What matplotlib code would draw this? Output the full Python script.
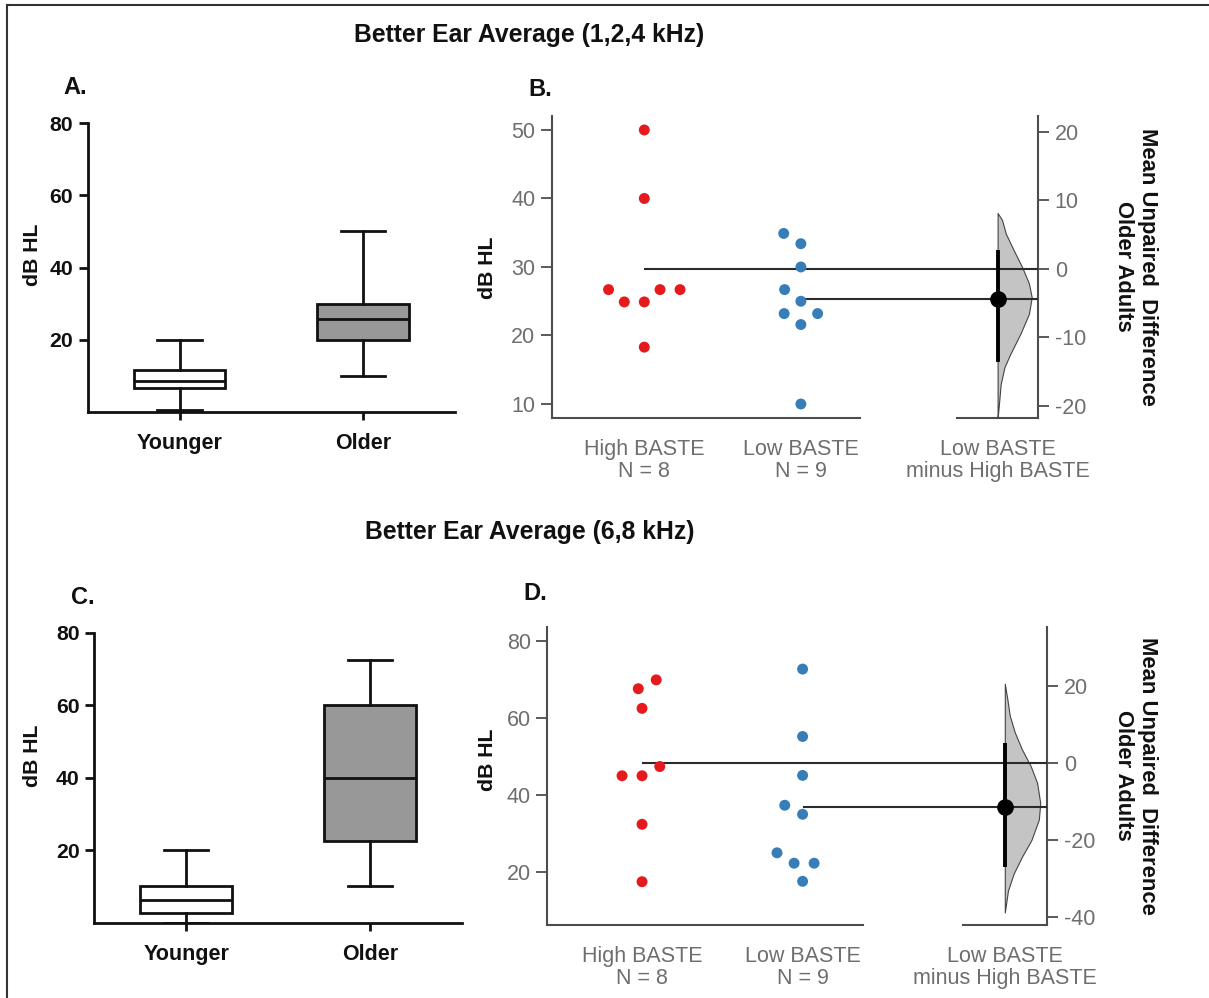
import numpy as np
import matplotlib
matplotlib.use("Agg")
import matplotlib.pyplot as plt
from matplotlib.lines import Line2D

plt.rcParams['font.family'] = ['Liberation Sans', 'DejaVu Sans']
plt.rcParams['axes.unicode_minus'] = False

# ---------------- data ----------------
box_groups = ['Younger', 'Older']
# Panel A: Better ear average (1,2,4 kHz), box plot stats
a_whislo = [0.5, 10]
a_q1 = [6.6, 20]
a_med = [8.4, 25.8]
a_q3 = [11.7, 30]
a_whishi = [20, 50]
# Panel C: Better ear average (6,8 kHz)
c_whislo = [0, 10]
c_q1 = [2.6, 22.6]
c_med = [6.3, 40]
c_q3 = [10.1, 60]
c_whishi = [20, 72.5]

# Panel B: older adults, dB HL (1,2,4 kHz)
b_high = [50, 40, 26.7, 26.7, 26.7, 24.9, 24.9, 18.3]
b_low = [34.9, 33.4, 30.0, 26.7, 25.0, 23.2, 23.2, 21.6, 10.0]
b_ci = [-13.7, 2.7]
# bootstrap distribution outline (difference value, relative density)
b_dist_val = [8.1, 7.1, 5.1, 2.7, 0.2, -2.2, -4.2, -6.6, -9.5, -12.5, -14.4, -16.9, -20.3, -21.8]
b_dist_den = [0.0, 0.13, 0.24, 0.47, 0.72, 0.92, 1.0, 0.92, 0.67, 0.37, 0.20, 0.09, 0.03, 0.0]

# Panel D: older adults, dB HL (6,8 kHz)
d_high = [69.8, 67.5, 62.4, 47.3, 44.9, 44.9, 32.3, 17.4]
d_low = [72.6, 55.1, 45.0, 37.25, 34.9, 24.9, 22.2, 22.2, 17.5]
d_ci = [-27.1, 5.2]
d_dist_val = [20.5, 16.6, 12.2, 7.9, 3.5, -0.9, -5.2, -10.5, -14.8, -20.1, -24.5, -28.8, -33.2, -38.9]
d_dist_den = [0.0, 0.07, 0.14, 0.28, 0.48, 0.73, 0.91, 1.0, 0.96, 0.75, 0.48, 0.25, 0.09, 0.0]

group_names = ['High BASTE', 'Low BASTE']
contrast_name = 'Low BASTE\nminus High BASTE'
b_left_ticks = [10, 20, 30, 40, 50]
b_right_ticks = [20, 10, 0, -10, -20]
d_left_ticks = [20, 40, 60, 80]
d_right_ticks = [20, 0, -20, -40]
box_ticks = [20, 40, 60, 80]

# ---------------- layout helpers ----------------
W, H = 1209, 998
fig = plt.figure(figsize=(W / 100, H / 100), dpi=100)


def rect(l, t, r, b):
    return [l / W, 1 - b / H, (r - l) / W, (b - t) / H]


def fx(x):
    return x / W


def fy(y):
    return 1 - y / H


INK = '#111111'
GRAYTXT = '#6e6e6e'
SPINE = '#4d4d4d'
RED = '#E41A1C'
BLUE = '#377EB8'


def box_panel(pos, whislo, q1, med, q3, whishi):
    ax = fig.add_axes(rect(*pos))
    stats = []
    for i in range(len(box_groups)):
        stats.append(dict(whislo=whislo[i], q1=q1[i], med=med[i], q3=q3[i],
                          whishi=whishi[i], fliers=[]))
    lw = 2.0
    bp = ax.bxp(stats, positions=[1, 2], widths=0.5, capwidths=0.24,
                patch_artist=True, showfliers=False,
                boxprops=dict(linewidth=lw, edgecolor=INK),
                medianprops=dict(color=INK, linewidth=lw),
                whiskerprops=dict(color=INK, linewidth=lw),
                capprops=dict(color=INK, linewidth=lw))
    for patch, fc in zip(bp['boxes'], ['white', '#989898']):
        patch.set_facecolor(fc)
    ax.set_xlim(0.5, 2.5)
    ax.set_ylim(0, 80)
    for s in ['top', 'right']:
        ax.spines[s].set_visible(False)
    for s in ['left', 'bottom']:
        ax.spines[s].set_linewidth(2.0)
        ax.spines[s].set_color(INK)
    ax.set_yticks(box_ticks, labels=[str(t) for t in box_ticks], fontweight='bold')
    ax.set_xticks([1, 2], labels=box_groups, fontweight='bold')
    ax.tick_params(axis='y', length=6.5, width=2, color=INK, labelsize=15.3, pad=4, labelcolor=INK)
    ax.tick_params(axis='x', length=6, width=2, color=INK, labelsize=15.5, pad=9, labelcolor=INK)
    return ax


box_panel((87.7, 123.3, 455, 411.7), a_whislo, a_q1, a_med, a_q3, a_whishi)
box_panel((94.3, 632.7, 461.7, 922.7), c_whislo, c_q1, c_med, c_q3, c_whishi)


def swarm_x(ax, center, values, d_px=20.0):
    bb = ax.get_window_extent()
    x0, x1 = ax.get_xlim()
    y0, y1 = ax.get_ylim()
    sx = bb.width / (x1 - x0)
    sy = bb.height / (y1 - y0)
    vals = np.asarray(values, float)
    order = np.argsort(vals, kind='stable')
    placed = []
    offs = np.zeros(len(vals))
    for i in order:
        y = vals[i] * sy
        cands = [0.0]
        for px, py in placed:
            dy = abs(py - y)
            if dy < d_px:
                dx = np.sqrt(d_px ** 2 - dy ** 2)
                cands += [px - dx, px + dx]
        cands = sorted(cands, key=lambda c: (abs(c), c))
        chosen = cands[-1]
        for c in cands:
            if all((c - px) ** 2 + (y - py) ** 2 >= d_px ** 2 - 1e-6 for px, py in placed):
                chosen = c
                break
        placed.append((chosen, y))
        offs[i] = chosen
    return center + offs / sx


def estimation_panel(raw_pos, con_pos, high, low, ci, dist_val, dist_den,
                     ylim, left_ticks, right_ticks):
    ax = fig.add_axes(rect(*raw_pos))
    axc = fig.add_axes(rect(*con_pos))
    axc.patch.set_visible(False)
    ax.set_xlim(-0.59, 1.375)
    ax.set_ylim(*ylim)
    m_high = float(np.mean(high))
    m_low = float(np.mean(low))
    diff = m_low - m_high
    axc.set_xlim(-0.5, 0.5)
    axc.set_ylim(ylim[0] - m_high, ylim[1] - m_high)

    # points
    for k, (vals, col) in enumerate([(high, RED), (low, BLUE)]):
        xs = swarm_x(ax, k, vals)
        ax.scatter(xs, vals, s=62, color=col, edgecolors='none', zorder=3)

    # mean reference lines through to the contrast axis
    x_con_left = ax.transData.inverted().transform(axc.transAxes.transform((0, 0)))[0]
    for k, m in enumerate([m_high, m_low]):
        ax.plot([k, x_con_left], [m, m], color='#2b2b2b', lw=1.5, zorder=2, clip_on=False,
                solid_capstyle='butt')
    axc.plot([-0.5, 0.5], [0, 0], color='#2b2b2b', lw=1.5, zorder=4, clip_on=False,
             solid_capstyle='butt')
    axc.plot([-0.5, 0.5], [diff, diff], color='#2b2b2b', lw=1.5, zorder=4, clip_on=False,
             solid_capstyle='butt')

    # bootstrap distribution half-violin
    den = np.asarray(dist_den) * 0.42
    axc.fill_betweenx(dist_val, 0, den, facecolor='#c4c4c4', edgecolor='#444444',
                      linewidth=0.8, zorder=3)
    axc.plot([0, 0], ci, color='black', lw=2.8, zorder=5, solid_capstyle='butt')
    axc.plot([0], [diff], 'o', color='black', ms=11, zorder=6)

    # spines / ticks
    for s in ['top', 'right']:
        ax.spines[s].set_visible(False)
    for s in ['top', 'left']:
        axc.spines[s].set_visible(False)
    for a, ss in [(ax, ['left', 'bottom']), (axc, ['right', 'bottom'])]:
        for s in ss:
            a.spines[s].set_color(SPINE)
            a.spines[s].set_linewidth(1.5)
    ax.set_yticks(left_ticks, labels=[str(t) for t in left_ticks])
    ax.set_xticks([0, 1], labels=[f'{n}\nN = {len(v)}' for n, v in zip(group_names, [high, low])],
                  linespacing=1.1)
    ax.tick_params(axis='y', length=8, width=1.3, color=SPINE, labelcolor=GRAYTXT,
                   labelsize=15.5, pad=4)
    ax.tick_params(axis='x', length=0, labelcolor=GRAYTXT, labelsize=15.5, pad=15)
    axc.yaxis.tick_right()
    axc.set_yticks(right_ticks, labels=[str(t) for t in right_ticks])
    axc.set_xticks([0], labels=[contrast_name], linespacing=1.1)
    axc.tick_params(axis='y', length=8, width=1.3, color=SPINE, labelcolor=GRAYTXT,
                    labelsize=15.5, pad=4)
    axc.tick_params(axis='x', length=0, labelcolor=GRAYTXT, labelsize=15.5, pad=15)
    return ax, axc


estimation_panel((551.9, 116, 859.6, 417.7), (957, 116, 1038.2, 417.7),
                 b_high, b_low, b_ci, b_dist_val, b_dist_den, (8.0, 52.04),
                 b_left_ticks, b_right_ticks)
estimation_panel((547.3, 626.7, 862.8, 925), (962.6, 626.7, 1047, 925),
                 d_high, d_low, d_ci, d_dist_val, d_dist_den, (6.16, 83.6),
                 d_left_ticks, d_right_ticks)

# ---------------- texts ----------------
bold = dict(fontweight='bold', color=INK)
fig.text(fx(529), fy(35), 'Better Ear Average (1,2,4 kHz)', ha='center', va='center',
         fontsize=17.8, **bold)
fig.text(fx(529.5), fy(532), 'Better Ear Average (6,8 kHz)', ha='center', va='center',
         fontsize=17.8, **bold)
for lbl, (x, y) in zip(['A.', 'B.', 'C.', 'D.'], [(75, 87), (540, 90), (82.5, 598), (535.5, 594)]):
    fig.text(fx(x), fy(y), lbl, ha='center', va='center', fontsize=17, **bold)
for (x, y) in [(33, 255), (32.5, 756), (487, 268), (487, 760)]:
    fig.text(fx(x), fy(y), 'dB HL', rotation=90, ha='center', va='center', fontsize=15.3, **bold)
for y in [266.8, 775.8]:
    fig.text(fx(1135.5), fy(y), 'Mean Unpaired  Difference\nOlder Adults', rotation=270,
             ha='center', va='center', multialignment='center', linespacing=1.15,
             fontsize=15.8, **bold)

# frame lines of the figure panel
fig.add_artist(Line2D([fx(7), fx(7)], [fy(5), 0], color='#333333', lw=1.5))
fig.add_artist(Line2D([fx(7), 1], [fy(5), fy(5)], color='#333333', lw=1.5))

fig.savefig('out.png', dpi=100, facecolor='white')
